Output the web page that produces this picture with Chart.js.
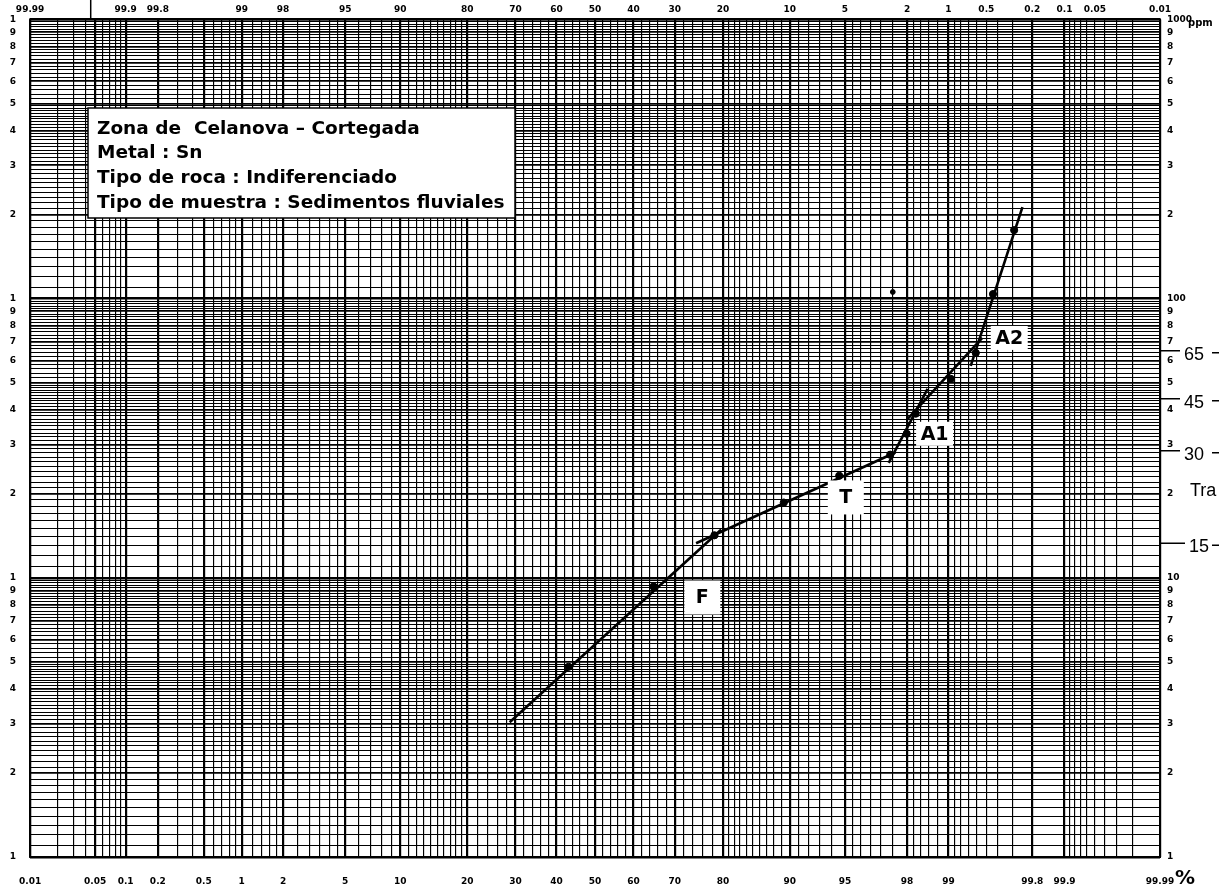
<!DOCTYPE html>
<html>
<head>
<meta charset="utf-8">
<script src="https://cdn.jsdelivr.net/npm/chart.js@4.4.1/dist/chart.umd.min.js"></script>
<style>
  html, body { margin: 0; padding: 0; background: #fff; }
  #wrap { width: 1222px; height: 887px; position: relative; }
</style>
</head>
<body>
<div id="wrap"><canvas id="paper"></canvas></div>
<script>
// sample points: cumulative frequency (%) and Sn content (ppm)
const pointPct = [43.1, 65.0, 78.4, 89.3, 94.6, 97.4, 97.99, 98.26, 99.04, 99.39, 99.56, 99.71];
const pointPpm = [4.8, 9.3, 14.2, 18.6, 23.2, 27.6, 32.8, 38.7, 51.6, 63.9, 103.8, 175.9];

// stray dot
const strayPct = [97.5];
const strayPpm = [105.6];

// fitted population lines (start, end)
const segF   = { pct: [28.7, 79.7],   ppm: [3.04, 14.9] };
const segT   = { pct: [74.7, 97.6],   ppm: [13.3, 28.1] };
const segA1  = { pct: [97.34, 98.57], ppm: [25.8, 47.5] };
const segA2a = { pct: [98.02, 99.46], ppm: [37.1, 72.3] };
const segA2b = { pct: [99.33, 99.755], ppm: [57.4, 212.5] };

// population labels
const popNames = ["F", "T", "A1", "A2"];
const popPct = [76.0, 95.06, 98.73, 99.68];
const popPpm = [8.5, 19.4, 32.8, 72.3];

// thresholds written on the right margin
const thresholdText = ["65", "45", "30", "15"];
const thresholdPpm = [65, 43.8, 28.5, 13.3];

// axis labels
const bottomLabels = [0.01, 0.05, 0.1, 0.2, 0.5, 1, 2, 5, 10, 20, 30, 40, 50, 60, 70, 80, 90, 95, 98, 99, 99.8, 99.9, 99.99];
const topLabels = ["99.99", "99.9", "99.8", "99", "98", "95", "90", "80", "70", "60", "50", "40", "30", "20", "10", "5", "2", "1", "0.5", "0.2", "0.1", "0.05", "0.01"];

const infoLines = [
  "Zona de  Celanova – Cortegada",
  "Metal : Sn",
  "Tipo de roca : Indiferenciado",
  "Tipo de muestra : Sedimentos fluviales"
];

// inverse normal (Acklam)
function probit(p) {
  const a = [-3.969683028665376e+01, 2.209460984245205e+02, -2.759285104469687e+02, 1.383577518672690e+02, -3.066479806614716e+01, 2.506628277459239e+00];
  const b = [-5.447609879822406e+01, 1.615858368580409e+02, -1.556989798598866e+02, 6.680131188771972e+01, -1.328068155288572e+01];
  const c = [-7.784894002430293e-03, -3.223964580411365e-01, -2.400758277161838e+00, -2.549732539343734e+00, 4.374664141464968e+00, 2.938163982698783e+00];
  const d = [7.784695709041462e-03, 3.224671290700398e-01, 2.445134137142996e+00, 3.754408661907416e+00];
  const pl = 0.02425;
  let q, r;
  if (p < pl) {
    q = Math.sqrt(-2 * Math.log(p));
    return (((((c[0]*q+c[1])*q+c[2])*q+c[3])*q+c[4])*q+c[5]) / ((((d[0]*q+d[1])*q+d[2])*q+d[3])*q+1);
  }
  if (p > 1 - pl) {
    q = Math.sqrt(-2 * Math.log(1 - p));
    return -(((((c[0]*q+c[1])*q+c[2])*q+c[3])*q+c[4])*q+c[5]) / ((((d[0]*q+d[1])*q+d[2])*q+d[3])*q+1);
  }
  q = p - 0.5; r = q * q;
  return (((((a[0]*r+a[1])*r+a[2])*r+a[3])*r+a[4])*r+a[5])*q / (((((b[0]*r+b[1])*r+b[2])*r+b[3])*r+b[4])*r+1);
}
const z = pct => probit(pct / 100);

// grid of the probability paper
function steps(from, to, step) {
  const out = [];
  const n = Math.round((to - from) / step);
  for (let i = 0; i < n; i++) out.push(+(from + i * step).toFixed(4));
  return out;
}
const xGrid = [].concat(
  steps(0.01, 0.1, 0.01), steps(0.1, 1, 0.1), steps(1, 2, 0.2), steps(2, 5, 0.5),
  steps(5, 10, 1), steps(10, 20, 1), steps(20, 80, 2), steps(80, 90, 1), steps(90, 95, 1),
  steps(95, 98, 0.5), steps(98, 99, 0.2), steps(99, 99.9, 0.1), steps(99.9, 99.99, 0.01), [99.99]
);
const isLabelled = p => bottomLabels.some(v => Math.abs(v - p) < 1e-6);

const yGrid = [];
[1, 10, 100].forEach(dec => {
  steps(1, 5, 0.1).concat(steps(5, 10, 0.2)).forEach(m => yGrid.push(+(m * dec).toPrecision(6)));
});
yGrid.push(1000);
const mantissa = v => Math.round(v / Math.pow(10, Math.floor(Math.log10(v) + 1e-9)) * 100) / 100;
const isWhole = v => Number.isInteger(mantissa(v));
const yRight = [];
[1, 10, 100].forEach(dec => { for (let m = 1; m < 10; m++) yRight.push(m * dec); });
yRight.push(1000);

const xy = (pcts, ppms) => pcts.map((p, i) => ({ x: z(p), y: ppms[i] }));
const segDataset = s => ({
  data: xy(s.pct, s.ppm), showLine: true, borderColor: "#000", borderWidth: 2.6,
  pointRadius: 0, fill: false
});

const tickFont = { family: "DejaVu Sans", size: 9, weight: "bold" };

const paperPlugin = {
  id: "paper",
  afterDraw(chart) {
    const { ctx, chartArea: a, scales: { x, y } } = chart;
    const px = p => x.getPixelForValue(z(p));
    const py = v => y.getPixelForValue(v);
    ctx.save();
    ctx.strokeStyle = "#000";
    ctx.lineWidth = 2;
    ctx.strokeRect(a.left, a.top, a.right - a.left, a.bottom - a.top);

    // stray mark above the grid
    ctx.lineWidth = 1.5;
    ctx.beginPath();
    ctx.moveTo(px(0.045), 0);
    ctx.lineTo(px(0.045), a.top);
    ctx.stroke();

    // info box
    ctx.fillStyle = "#fff";
    ctx.fillRect(88, 108, 427, 110);
    ctx.lineWidth = 1.5;
    ctx.strokeRect(88, 108, 427, 110);
    ctx.fillStyle = "#000";
    ctx.font = "bold 18.5px 'DejaVu Sans'";
    ctx.textBaseline = "middle";
    ctx.textAlign = "left";
    infoLines.forEach((t, i) => ctx.fillText(t, 97, 129 + i * 24.6));

    // population labels
    popNames.forEach((name, i) => {
      const cx = px(popPct[i]), cy = py(popPpm[i]);
      const w = name.length > 1 ? 37 : 36, h = name.length > 1 ? 24 : 34;
      ctx.fillStyle = "#fff";
      ctx.fillRect(cx - w / 2, cy - h / 2, w, h);
      ctx.fillStyle = "#000";
      ctx.font = "bold 19px 'DejaVu Sans'";
      ctx.textAlign = "center";
      ctx.fillText(name, cx, cy + 1);
    });

    // thresholds on the right margin
    ctx.font = "18px 'Liberation Sans'";
    ctx.textAlign = "left";
    ctx.lineWidth = 1.5;
    thresholdText.forEach((t, i) => {
      const ty = py(thresholdPpm[i]);
      ctx.beginPath();
      ctx.moveTo(a.right, ty);
      ctx.lineTo(a.right + (i === 3 ? 25 : 20), ty);
      ctx.moveTo(1212, ty + 2);
      ctx.lineTo(1219, ty + 2);
      ctx.stroke();
      ctx.fillText(t, a.right + (i === 3 ? 29 : 24), ty + 4);
    });
    ctx.fillText("Tra", 1190, py(20.5));

    // units
    ctx.font = "bold 10px 'DejaVu Sans'";
    ctx.fillText("ppm", 1188, a.top + 4);
    ctx.font = "bold 20px 'DejaVu Sans'";
    ctx.fillText("%", 1175, 879);
    ctx.restore();
  }
};

new Chart(document.getElementById("paper"), {
  type: "scatter",
  data: {
    datasets: [
      segDataset(segF), segDataset(segT), segDataset(segA1), segDataset(segA2a), segDataset(segA2b),
      { data: xy(pointPct, pointPpm), pointRadius: 3.6, pointBackgroundColor: "#000", pointBorderColor: "#000", showLine: false },
      { data: xy(strayPct, strayPpm), pointRadius: 2.4, pointBackgroundColor: "#000", pointBorderColor: "#000", showLine: false }
    ]
  },
  options: {
    responsive: true,
    maintainAspectRatio: false,
    animation: false,
    devicePixelRatio: 1,
    layout: { padding: 0 },
    plugins: { legend: { display: false }, tooltip: { enabled: false } },
    scales: {
      x: {
        type: "linear", position: "bottom", min: z(0.01), max: z(99.99),
        afterBuildTicks: s => { s.ticks = xGrid.map(p => ({ value: z(p) })); },
        afterFit: s => { s.height = 30; },
        ticks: {
          autoSkip: false, maxRotation: 0, padding: 19, color: "#000", font: tickFont,
          callback: (v, i) => isLabelled(xGrid[i]) ? String(xGrid[i]) : ""
        },
        grid: {
          drawTicks: false, color: "#000",
          lineWidth: c => isLabelled(xGrid[c.index]) ? 2.2 : 1.15
        },
        border: { display: false }
      },
      x2: {
        type: "linear", position: "top", min: z(0.01), max: z(99.99),
        afterBuildTicks: s => { s.ticks = topLabels.map(t => ({ value: z(100 - parseFloat(t)) })); },
        afterFit: s => { s.height = 18; },
        ticks: {
          autoSkip: false, maxRotation: 0, padding: 4, color: "#000", font: tickFont,
          callback: (v, i) => topLabels[i]
        },
        grid: { display: false, drawTicks: false },
        border: { display: false }
      },
      y: {
        type: "logarithmic", position: "left", min: 1, max: 1000,
        afterBuildTicks: s => { s.ticks = yGrid.map(v => ({ value: v })); },
        afterFit: s => { s.width = 27; },
        ticks: {
          autoSkip: false, padding: 14, color: "#000", font: tickFont,
          callback: (v, i) => isWhole(yGrid[i]) ? String(mantissa(yGrid[i])) : ""
        },
        grid: {
          drawTicks: false, color: "#000",
          lineWidth: c => isWhole(yGrid[c.index]) ? (mantissa(yGrid[c.index]) === 1 ? 2.4 : 1.8) : 1.05
        },
        border: { display: false }
      },
      y2: {
        type: "logarithmic", position: "right", min: 1, max: 1000,
        afterBuildTicks: s => { s.ticks = yRight.map(v => ({ value: v })); },
        afterFit: s => { s.width = 62; },
        ticks: {
          autoSkip: false, padding: 7, color: "#000", font: tickFont,
          callback: (v, i) => mantissa(yRight[i]) === 1 ? String(yRight[i]) : String(mantissa(yRight[i]))
        },
        grid: { display: false, drawTicks: false },
        border: { display: false }
      }
    }
  },
  plugins: [paperPlugin]
});
</script>
</body>
</html>
